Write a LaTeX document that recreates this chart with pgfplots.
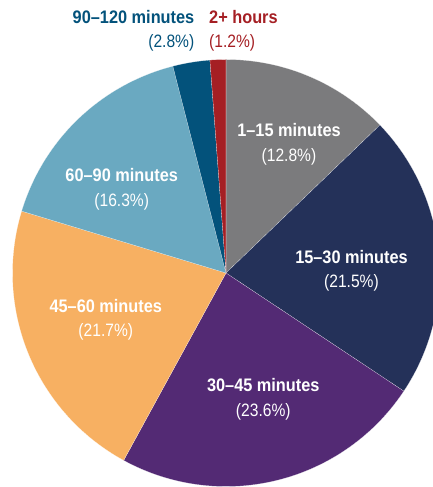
\documentclass[border=0pt]{standalone}
\usepackage{pgfplots}
\pgfplotsset{compat=1.18}
\usepackage{fontspec}
\setmainfont[FakeStretch=0.87]{Liberation Sans}
\newfontfamily\headfont[FakeStretch=0.9]{Liberation Sans}

\definecolor{cGrey}{HTML}{7B7B7D}
\definecolor{cNavy}{HTML}{243159}
\definecolor{cPurple}{HTML}{532A74}
\definecolor{cOrange}{HTML}{F7B062}
\definecolor{cSky}{HTML}{6AA9C1}
\definecolor{cBlue}{HTML}{03527B}
\definecolor{cRed}{HTML}{A51F24}

\tikzset{lab/.style={align=center, inner sep=0pt, font=\fontsize{18}{24.5}\selectfont}}
\newcommand{\head}[1]{{\headfont\bfseries\fontsize{18.2}{24.5}\selectfont #1}}

% pie radius (axis units) and degrees per percent (shares add up to 99.9)
\def\R{213.5}
\def\k{3.6036}

% one wedge: cumulative start, cumulative end (percent), colour
\newcommand{\slice}[3]{%
  \addplot[fill=#3, draw=white, line width=0.08pt, domain=#1:#2, samples=120]
    ({\R*sin(\k*x)}, {\R*cos(\k*x)}) -- (axis cs:0,0) -- cycle;}

\begin{document}
\begin{tikzpicture}
\begin{axis}[
  x=1bp, y=1bp,
  xmin=-226, xmax=207, ymin=-214, ymax=273,
  hide axis, clip=true,
]
% time spent: 12.8, 21.5, 23.6, 21.7, 16.3, 2.8, 1.2 percent, clockwise from the top
\slice{0}{12.8}{cGrey}
\slice{12.8}{34.3}{cNavy}
\slice{34.3}{57.9}{cPurple}
\slice{57.9}{79.6}{cOrange}
\slice{79.6}{95.9}{cSky}
\slice{95.9}{98.7}{cBlue}
\slice{98.7}{99.9}{cRed}

\node[lab, text=white] at (axis cs:63,128.7) {\head{1–15 minutes}\\(12.8\%)};
\node[lab, text=white] at (axis cs:125.5,2.1) {\head{15–30 minutes}\\(21.5\%)};
\node[lab, text=white] at (axis cs:37.3,-126.3) {\head{30–45 minutes}\\(23.6\%)};
\node[lab, text=white] at (axis cs:-120.2,-46.8) {\head{45–60 minutes}\\(21.7\%)};
\node[lab, text=white] at (axis cs:-104.3,83.8) {\head{60–90 minutes}\\(16.3\%)};
\node[lab, text=cBlue, align=right, anchor=east] at (axis cs:-31.5,242.3)
  {\head{90–120 minutes}\\(2.8\%)};
\node[lab, text=cRed, align=left, anchor=west] at (axis cs:-17,242.3)
  {\head{2+ hours}\\(1.2\%)};
\end{axis}
\pgfresetboundingbox
\path (current axis.south west) rectangle (current axis.north east);
\end{tikzpicture}
\end{document}
